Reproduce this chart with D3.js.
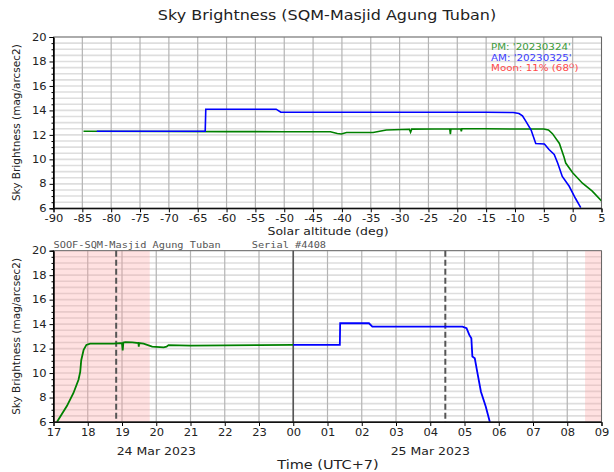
<!DOCTYPE html>
<html>
<head>
  <meta charset="utf-8">
  <script src="https://d3js.org/d3.v7.min.js"></script>
  <title>Sky Brightness</title>
  <style>
    body { margin: 0; background: #fff; }
    text { font-family: "DejaVu Sans", sans-serif; }
  </style>
</head>
<body>
<div class="chart"></div>
<script>
// ---- data ----
var titleText = "Sky Brightness (SQM-Masjid Agung Tuban)";
var yLabel = "Sky Brightness (mag/arcsec2)";
var yTicks = [6, 8, 10, 12, 14, 16, 18, 20];

// top panel: solar altitude (deg) vs brightness
var altTicks = [-90, -85, -80, -75, -70, -65, -60, -55, -50, -45, -40, -35, -30, -25, -20, -15, -10, -5, 0, 5];
var pmAlt = [-84.8, -70, -60, -50, -42, -40.8, -40.1, -39.2, -34.6, -32.3, -28.3, -28.1, -27.9, -24, -21.3, -21.2, -21.1, -19.4, -19.3, -19.2, -15, -10, -5, -4.2, -3.5, -2.3, -1.5, -1.2, 0, 1.7, 3.4, 5];
var pmAltMag = [12.3, 12.28, 12.27, 12.26, 12.26, 12.12, 12.07, 12.2, 12.2, 12.4, 12.46, 12.22, 12.47, 12.48, 12.48, 12.05, 12.48, 12.48, 12.3, 12.5, 12.5, 12.48, 12.48, 12.4, 12.1, 11.3, 10.2, 9.7, 8.9, 8.05, 7.4, 6.6];
var amAlt = [-82.5, -70, -63.7, -63.6, -51.4, -50.6, -30, -15, -10.3, -9.3, -8.7, -8.1, -7.2, -6.4, -4.9, -4.1, -3.2, -2.6, -1.8, -0.6, 0.5, 1.4];
var amAltMag = [12.3, 12.3, 12.3, 14.1, 14.1, 13.85, 13.85, 13.85, 13.83, 13.75, 13.55, 13.1, 12.4, 11.3, 11.25, 10.8, 10.4, 9.7, 8.6, 7.8, 6.8, 6.05];

var legendLines = ["PM: '20230324'", "AM: '20230325'", "Moon: 11% (68"];

// bottom panel: local time in hours after 00:00 on 24 Mar (UTC+7)
var hourTicks = [17, 18, 19, 20, 21, 22, 23, 24, 25, 26, 27, 28, 29, 30, 31, 32, 33];
var pmHour = [17.1, 17.39, 17.58, 17.73, 17.78, 17.81, 17.88, 17.96, 18.07, 18.75, 19.0, 19.02, 19.04, 19.1, 19.3, 19.48, 19.49, 19.5, 19.63, 19.88, 20.22, 20.3, 20.36, 21, 22, 23, 24];
var pmHourMag = [6.0, 7.3, 8.35, 9.45, 10.1, 11.05, 11.9, 12.3, 12.4, 12.4, 12.45, 11.85, 12.5, 12.53, 12.5, 12.45, 12.15, 12.45, 12.4, 12.16, 12.1, 12.15, 12.28, 12.25, 12.27, 12.28, 12.3];
var amHour = [24, 25.36, 25.37, 26.21, 26.31, 28.94, 29.06, 29.14, 29.2, 29.23, 29.3, 29.38, 29.48, 29.62, 29.74];
var amHourMag = [12.3, 12.3, 14.07, 14.07, 13.8, 13.8, 13.66, 13.12, 12.84, 11.35, 11.2, 9.97, 8.47, 7.27, 6.0];
var twilightBands = [[17, 19.81], [32.52, 33]];
var markTimes = [18.83, 28.44];
var midnight = 24;
var dateLabels = [{t: 20.0, text: "24 Mar 2023"}, {t: 28.0, text: "25 Mar 2023"}];
var stationText = "SOOF-SQM-Masjid Agung Tuban";
var serialText = "Serial #4408";

// ---- drawing ----
var W = 614, H = 472;
var left = 53.5, right = 601.5;
var squash = 0.85;  // text in the picture is a bit flattened
var svg = d3.select('.chart').append('svg').attr('width', W).attr('height', H);

var minorTicks = d3.range(6, 20.01, 0.5);

function label(x, y, s, size, anchor, color) {
  return svg.append('text')
    .attr('transform', 'translate(' + x + ',' + y + ') scale(1,' + squash + ')')
    .attr('text-anchor', anchor || 'middle')
    .attr('font-size', size).attr('fill', color || '#222').text(s);
}

function panel(top, bottom, xScale, xTicks) {
  var y = d3.scaleLinear().domain([6, 20]).range([bottom, top]);
  var g = svg.append('g');
  g.selectAll('line.hg').data(minorTicks).enter().append('line')
    .attr('x1', left).attr('x2', right)
    .attr('y1', function(d) { return y(d); }).attr('y2', function(d) { return y(d); })
    .attr('stroke', '#dedede').attr('stroke-width', 1.6);
  g.selectAll('line.vg').data(xTicks).enter().append('line')
    .attr('x1', function(d) { return xScale(d); }).attr('x2', function(d) { return xScale(d); })
    .attr('y1', top).attr('y2', bottom)
    .attr('stroke', '#b4b4b4').attr('stroke-width', 1.2);
  return {g: g, y: y};
}

function axes(p, top, bottom, xScale, xTicks, xFmt) {
  var y = p.y;
  var ya = svg.append('g').attr('transform', 'translate(' + left + ',0)')
    .call(d3.axisLeft(y).tickValues(yTicks).tickSize(4).tickPadding(3).tickFormat(d3.format('d')));
  svg.append('g').attr('transform', 'translate(' + left + ',0)')
    .call(d3.axisLeft(y).tickValues(minorTicks.filter(function(d) { return d % 2 !== 0; })).tickSize(2).tickFormat(''));
  var xa = svg.append('g').attr('transform', 'translate(0,' + bottom + ')')
    .call(d3.axisBottom(xScale).tickValues(xTicks).tickSize(4).tickPadding(4).tickFormat(xFmt));
  [ya, xa].forEach(function(a) {
    a.selectAll('.tick text').attr('font-size', 11.5).attr('fill', '#222')
      .style('font-family', 'DejaVu Sans').attr('transform', 'scale(1,' + squash + ')');
  });
  svg.selectAll('.domain').attr('stroke', '#000');
  svg.append('rect').attr('x', left).attr('y', top).attr('width', right - left).attr('height', bottom - top)
    .attr('fill', 'none').attr('stroke', '#555').attr('stroke-width', 0.8);
  svg.append('line').attr('x1', left).attr('x2', left).attr('y1', top).attr('y2', bottom).attr('stroke', '#000');
  svg.append('line').attr('x1', left).attr('x2', right).attr('y1', bottom).attr('y2', bottom).attr('stroke', '#000');
  svg.append('text').attr('transform', 'translate(17,' + ((top + bottom) / 2) + ') rotate(-90)')
    .attr('text-anchor', 'middle').attr('dominant-baseline', 'middle')
    .attr('font-size', 10.5).attr('fill', '#222').text(yLabel);
}

function lineGen(x, y, xv, yv) {
  return d3.line().x(function(i) { return x(xv[i]); }).y(function(i) { return y(yv[i]); })(d3.range(xv.length));
}

var plain = function(d) { return String(d); };

// title
label(327, 20, titleText, 16);

// top panel
var t1 = 37, b1 = 208.3;
var xAlt = d3.scaleLinear().domain([-90, 5]).range([left, right]);
var p1 = panel(t1, b1, xAlt, altTicks);
var defs = svg.append('defs');
defs.append('clipPath').attr('id', 'c1').append('rect')
  .attr('x', left).attr('y', t1).attr('width', right - left).attr('height', b1 - t1);
defs.append('clipPath').attr('id', 'c2').append('rect')
  .attr('x', left).attr('y', 250.7).attr('width', right - left).attr('height', 422 - 250.7);
var l1 = svg.append('g').attr('clip-path', 'url(#c1)');
l1.append('path').attr('d', lineGen(xAlt, p1.y, pmAlt, pmAltMag))
  .attr('fill', 'none').attr('stroke', '#008000').attr('stroke-width', 1.6);
l1.append('path').attr('d', lineGen(xAlt, p1.y, amAlt, amAltMag))
  .attr('fill', 'none').attr('stroke', '#0000ff').attr('stroke-width', 1.6);
axes(p1, t1, b1, xAlt, altTicks, plain);
label(328, 235, 'Solar altitude (deg)', 12.5);

var legendColors = ['#3a9a3a', '#3c3cff', '#ff4a4a'];
legendLines.forEach(function(s, i) {
  var tx = label(491, 50 + i * 10.5, s, 10.3, 'start', legendColors[i]);
  if (i === 2) {
    tx.append('tspan').attr('dy', -3.5).attr('font-size', 7).text('O');
    tx.append('tspan').attr('dy', 3.5).text(')');
  }
});

// bottom panel
var t2 = 250.7, b2 = 422;
var xHour = d3.scaleLinear().domain([17, 33]).range([left, right]);
var p2 = panel(t2, b2, xHour, hourTicks);
p2.g.selectAll('rect.band').data(twilightBands).enter().append('rect')
  .attr('x', function(d) { return xHour(d[0]); }).attr('y', t2)
  .attr('width', function(d) { return xHour(d[1]) - xHour(d[0]); }).attr('height', b2 - t2)
  .attr('fill', '#ff9a9a').attr('fill-opacity', 0.3);
p2.g.append('line').attr('x1', xHour(midnight)).attr('x2', xHour(midnight)).attr('y1', t2).attr('y2', b2)
  .attr('stroke', '#555').attr('stroke-width', 1.6);
p2.g.selectAll('line.mark').data(markTimes).enter().append('line')
  .attr('x1', function(d) { return xHour(d); }).attr('x2', function(d) { return xHour(d); })
  .attr('y1', t2).attr('y2', b2)
  .attr('stroke', '#555').attr('stroke-width', 2).attr('stroke-dasharray', '6,3');
var l2 = svg.append('g').attr('clip-path', 'url(#c2)');
l2.append('path').attr('d', lineGen(xHour, p2.y, pmHour, pmHourMag))
  .attr('fill', 'none').attr('stroke', '#008000').attr('stroke-width', 1.8);
l2.append('path').attr('d', lineGen(xHour, p2.y, amHour, amHourMag))
  .attr('fill', 'none').attr('stroke', '#0000ff').attr('stroke-width', 1.8);
axes(p2, t2, b2, xHour, hourTicks, function(d) { return d3.format('02d')(d % 24); });

dateLabels.forEach(function(d) { label(xHour(d.t), 455, d.text, 12.5); });
label(328, 469, 'Time (UTC+7)', 14.5);
label(left, 248, stationText, 10.3, 'start', '#555').style('font-family', 'DejaVu Sans Mono');
label(251.7, 248, serialText, 10.3, 'start', '#555').style('font-family', 'DejaVu Sans Mono');
</script>
</body>
</html>
